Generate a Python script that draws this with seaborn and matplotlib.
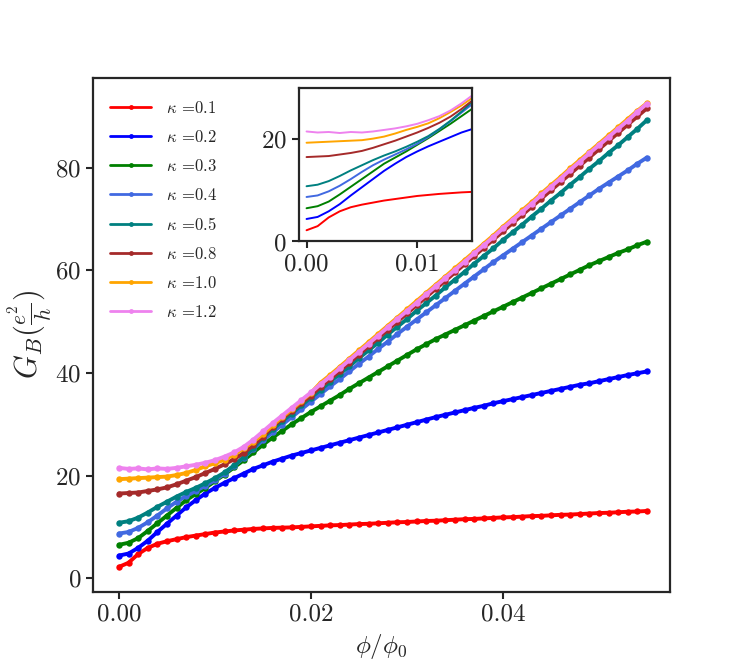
import numpy as np
import pandas as pd
import matplotlib
matplotlib.use("Agg")
import matplotlib.pyplot as plt
import seaborn as sns

# ---------------- data ----------------
phi = np.linspace(0.0, 0.055, 56)

kappa_labels = ["0.1", "0.2", "0.3", "0.4", "0.5", "0.8", "1.0", "1.2"]
colors = ["red", "blue", "green", "royalblue", "teal", "brown", "orange", "violet"]

g_k01 = [2.2, 3.0, 4.7, 5.9, 6.7, 7.2, 7.6, 8.0, 8.3, 8.6, 8.9, 9.1, 9.3, 9.45, 9.6, 9.7,
         9.8, 9.85, 9.9, 10.0, 10.1,
         10.2, 10.3, 10.35, 10.45, 10.55, 10.6, 10.7, 10.8, 10.9, 10.95, 11.05, 11.15, 11.2, 11.3, 11.4,
         11.5, 11.55, 11.65, 11.75, 11.85, 11.9, 12.0, 12.1, 12.15, 12.25, 12.35, 12.4, 12.5, 12.6, 12.7,
         12.75, 12.85, 12.95, 13.0, 13.1]
g_k02 = [4.4, 4.8, 5.9, 7.3, 9.0, 10.6, 12.2, 13.8, 15.2, 16.5, 17.6, 18.6, 19.5, 20.4, 21.3, 22.0,
         22.7, 23.3, 23.9, 24.4, 24.9,
         25.4, 25.9, 26.4, 26.9, 27.4, 27.9, 28.4, 28.9, 29.4, 29.9, 30.4, 30.9, 31.4, 31.85, 32.3,
         32.75, 33.2, 33.6, 34.1, 34.5, 34.9, 35.3, 35.7, 36.1, 36.5, 36.9, 37.3, 37.7, 38.0, 38.4,
         38.8, 39.2, 39.6, 39.95, 40.3]
g_k03 = [6.5, 6.9, 7.8, 9.2, 10.7, 12.2, 13.7, 15.2, 16.4, 17.6, 18.9, 20.2, 21.6, 23.0, 24.5, 26.0,
         27.4, 28.7, 30.0, 31.2, 32.4,
         33.5, 34.6, 35.7, 36.9, 38.0, 39.1, 40.2, 41.3, 42.4, 43.5, 44.6, 45.6, 46.6, 47.5, 48.4,
         49.3, 50.2, 51.1, 52.0, 52.9, 53.8, 54.7, 55.6, 56.5, 57.4, 58.3, 59.2, 60.1, 61.0, 61.8,
         62.6, 63.4, 64.1, 64.9, 65.6]
g_k04 = [8.7, 9.0, 9.8, 10.9, 12.2, 13.6, 14.9, 16.0, 17.0, 18.0, 19.1, 20.4, 21.9, 23.5, 25.2, 26.9,
         28.4, 29.9, 31.4, 32.9, 34.4,
         35.9, 37.4, 38.8, 40.3, 41.8, 43.2, 44.7, 46.1, 47.6, 49.0, 50.4, 51.8, 53.2, 54.6, 56.0,
         57.4, 58.8, 60.2, 61.6, 62.9, 64.2, 65.5, 66.8, 68.1, 69.4, 70.7, 72.0, 73.3, 74.6, 75.9,
         77.1, 78.3, 79.5, 80.8, 82.0]
g_k05 = [10.8, 11.1, 11.8, 12.8, 13.9, 14.9, 15.9, 16.8, 17.6, 18.5, 19.5, 20.6, 22.0, 23.6, 25.4, 27.4,
         29.0, 30.6, 32.1, 33.7, 35.2,
         36.7, 38.3, 39.8, 41.3, 42.9, 44.4, 45.9, 47.5, 49.0, 50.5, 52.1, 53.6, 55.1, 56.7, 58.2,
         59.7, 61.3, 62.8, 64.3, 65.9, 67.4, 68.9, 70.5, 72.0, 73.6, 75.1, 76.7, 78.2, 79.8, 81.3,
         82.9, 84.4, 86.0, 87.6, 89.3]
g_k08 = [16.5, 16.6, 16.7, 17.0, 17.3, 17.7, 18.3, 19.0, 19.7, 20.5, 21.3, 22.2, 23.2, 24.4, 25.9, 27.6,
         29.5, 31.1, 32.6, 34.1, 35.6,
         37.3, 38.8, 40.4, 42.0, 43.6, 45.2, 46.8, 48.4, 50.0, 51.6, 53.2, 54.8, 56.4, 58.0, 59.6,
         61.2, 62.8, 64.4, 66.0, 67.6, 69.2, 70.8, 72.4, 74.0, 75.6, 77.2, 78.8, 80.4, 82.0, 83.6,
         85.2, 86.8, 88.4, 90.0, 91.6]
g_k10 = [19.3, 19.4, 19.5, 19.6, 19.7, 19.8, 20.1, 20.5, 21.1, 21.8, 22.4, 23.1, 24.1, 25.3, 26.6, 28.1,
         29.8, 31.4, 32.9, 34.5, 36.1,
         38.1, 39.6, 41.2, 42.8, 44.4, 46.0, 47.6, 49.2, 50.8, 52.4, 54.0, 55.6, 57.2, 58.8, 60.4,
         62.0, 63.6, 65.2, 66.8, 68.5, 70.1, 71.7, 73.3, 75.0, 76.6, 78.2, 79.9, 81.5, 83.1, 84.7,
         86.3, 87.9, 89.5, 91.1, 92.6]
g_k12 = [21.5, 21.3, 21.4, 21.2, 21.4, 21.3, 21.5, 21.8, 22.1, 22.5, 23.0, 23.7, 24.5, 25.6, 27.0, 28.6,
         30.2, 31.7, 33.2, 34.7, 36.2,
         37.8, 39.3, 40.9, 42.5, 44.1, 45.7, 47.3, 48.9, 50.5, 52.1, 53.7, 55.3, 56.9, 58.5, 60.1,
         61.7, 63.3, 64.9, 66.5, 68.2, 69.8, 71.4, 73.0, 74.7, 76.3, 77.9, 79.6, 81.2, 82.8, 84.4,
         86.0, 87.6, 89.2, 90.9, 92.5]

series = [g_k01, g_k02, g_k03, g_k04, g_k05, g_k08, g_k10, g_k12]

# ---------------- style ----------------
sns.set_style("ticks")
plt.rcParams["font.family"] = ["serif"]
plt.rcParams["font.serif"] = ["cmr10", "DejaVu Serif"]
plt.rcParams["mathtext.fontset"] = "cm"
plt.rcParams["axes.formatter.use_mathtext"] = True
plt.rcParams["axes.unicode_minus"] = False

fig = plt.figure(figsize=(7.47, 6.64), dpi=100)
ax = fig.add_axes([0.1245, 0.1084, 0.7724, 0.7741])

for lab, col, g in zip(kappa_labels, colors, series):
    sns.lineplot(x=phi, y=g, ax=ax, color=col, linewidth=2.8, marker="o",
                 markersize=4.6, markeredgecolor=col, markeredgewidth=0,
                 label=r"$\kappa$ =" + lab, estimator=None, sort=False)

ax.set_xlim(-0.0027, 0.0574)
ax.set_ylim(-2.7, 97.5)
ax.set_xticks([0.0, 0.02, 0.04])
ax.set_xticklabels(["0.00", "0.02", "0.04"])
ax.set_yticks([0, 20, 40, 60, 80])
ax.tick_params(axis="both", labelsize=18, length=5, width=1.5, direction="out")
ax.set_xlabel(r"$\phi/\phi_0$", fontsize=18)
ax.set_ylabel(r"$G_B(\frac{e^2}{h})$", fontsize=22, labelpad=0)
for s in ax.spines.values():
    s.set_linewidth(1.6)
    s.set_visible(True)

leg = ax.legend(loc="upper left", bbox_to_anchor=(0.0, 0.99), frameon=False,
                fontsize=12, handlelength=2.5, handletextpad=0.9,
                labelspacing=0.78, borderaxespad=0.6)
for h in leg.get_lines():
    h.set_linewidth(2.0)
    h.set_markersize(3.5)

# ---------------- inset ----------------
axi = fig.add_axes([0.400, 0.6363, 0.2312, 0.2312])
for col, g in zip(colors, series):
    sns.lineplot(x=phi, y=g, ax=axi, color=col, linewidth=1.4, legend=False,
                 estimator=None, sort=False)
axi.set_xlim(-0.0007, 0.0149)
axi.set_ylim(0, 30)
axi.set_xticks([0.0, 0.01])
axi.set_xticklabels(["0.00", "0.01"])
axi.set_yticks([0, 20])
axi.tick_params(axis="both", labelsize=18, length=5, width=1.5, direction="out")
axi.set_xlabel("")
axi.set_ylabel("")
for s in axi.spines.values():
    s.set_linewidth(1.6)
    s.set_visible(True)

fig.savefig("out.png", dpi=100)
